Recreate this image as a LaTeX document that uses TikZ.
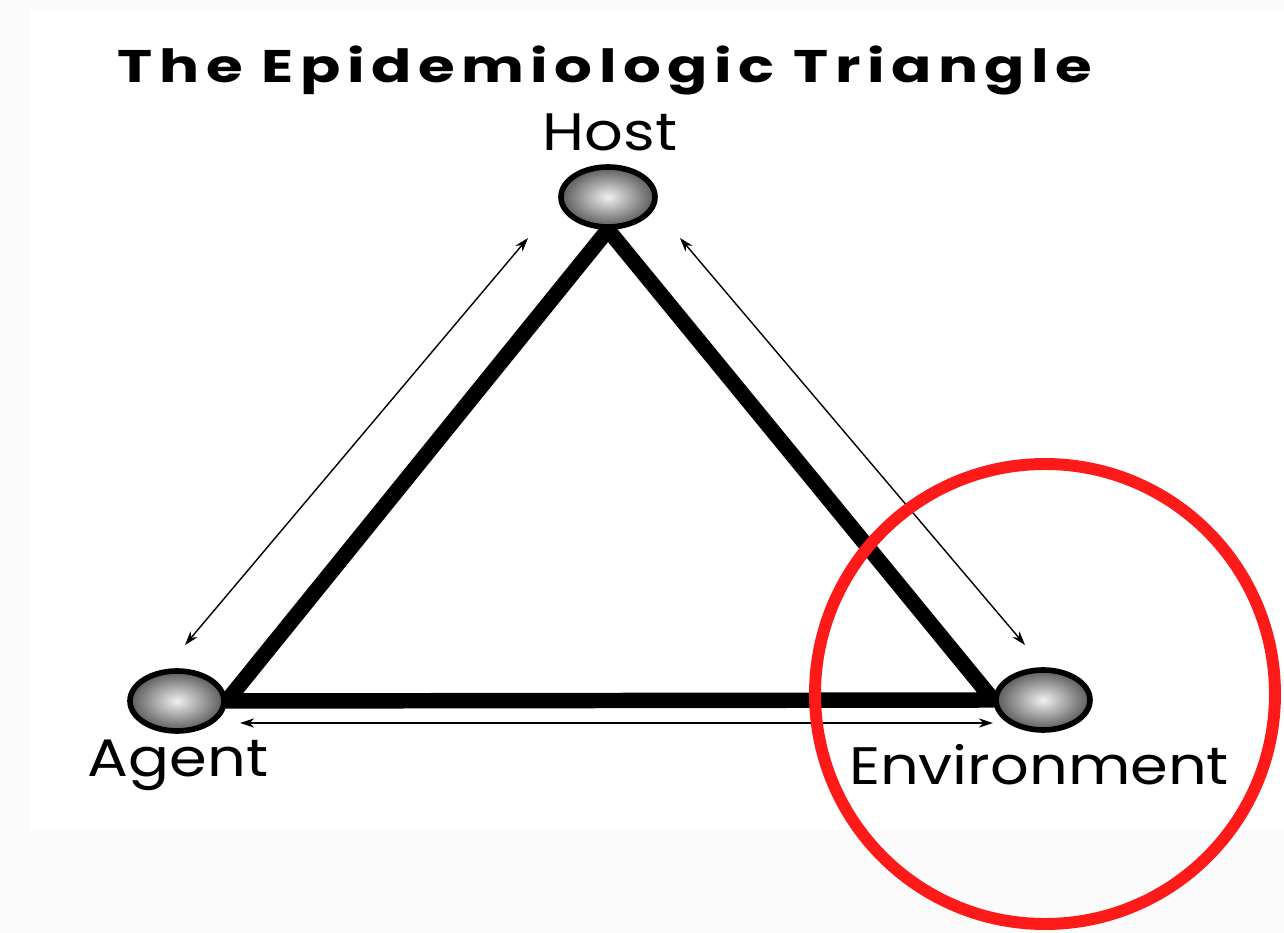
\documentclass[tikz,border=0pt]{standalone}
\usepackage{fontspec}
\setmainfont{Poppins}
\usetikzlibrary{shapes.geometric,arrows.meta,positioning,backgrounds}
\definecolor{markred}{HTML}{FF1A1A}
\tikzset{
  ball/.style={ellipse, draw, line width=1.6pt, minimum width=0.94cm, minimum height=0.6cm,
    inner sep=0pt, inner color=gray!12, outer color=gray!70!black},
  leg/.style={line width=4.4pt, line join=round},
  link/.style={line width=0.4pt, {Stealth[length=4pt,width=2.6pt]}-{Stealth[length=4pt,width=2.6pt]}},
  lbl/.style={font=\fontsize{15}{18}\selectfont, xscale=1.15},
}

\begin{document}
\begin{tikzpicture}
  \useasboundingbox (0,0) rectangle (12.84,-9.33);

  % Titel
  \node[font=\fontsize{13}{15}\bfseries\addfontfeature{LetterSpace=11}, xscale=1.3] (title) at (6.05,-0.70) {The Epidemiologic Triangle};

  % Ecken des Dreiecks
  \node[ball] (host) at (6.08,-1.97) {};
  \node[ball] (agent) at (1.77,-7.01) {};
  \node[ball] (env) at (10.43,-7.00) {};

  \node[lbl] (hostlbl) at (6.10,-1.32) {Host};
  \node[lbl] (agentlbl) at (1.78,-7.65) {Agent};
  \node[lbl] (envlbl) at (10.39,-7.65) {Environment};

  % Wechselwirkungen
  \coordinate (hl) at (5.28,-2.38);
  \coordinate (al) at (1.85,-6.45);
  \coordinate (hr) at (6.80,-2.38);
  \coordinate (er) at (10.25,-6.45);
  \coordinate (ab) at (2.40,-7.23);
  \coordinate (eb) at (9.93,-7.23);
  \draw[link] (hl) -- (al);
  \draw[link] (hr) -- (er);
  \draw[link] (ab) -- (eb);

  \begin{pgfonlayer}{background}
    \fill[gray!3] (0,0) rectangle (12.84,-9.33);
    \fill[white] (0.30,-0.10) rectangle (12.84,-8.30);
    \draw[leg] (host.south) -- (agent.east) -- (env.west) -- cycle;
  \end{pgfonlayer}

  % Markierung
  \draw[markred, line width=3.4pt] (10.45,-6.94) circle (2.30);
\end{tikzpicture}
\end{document}
